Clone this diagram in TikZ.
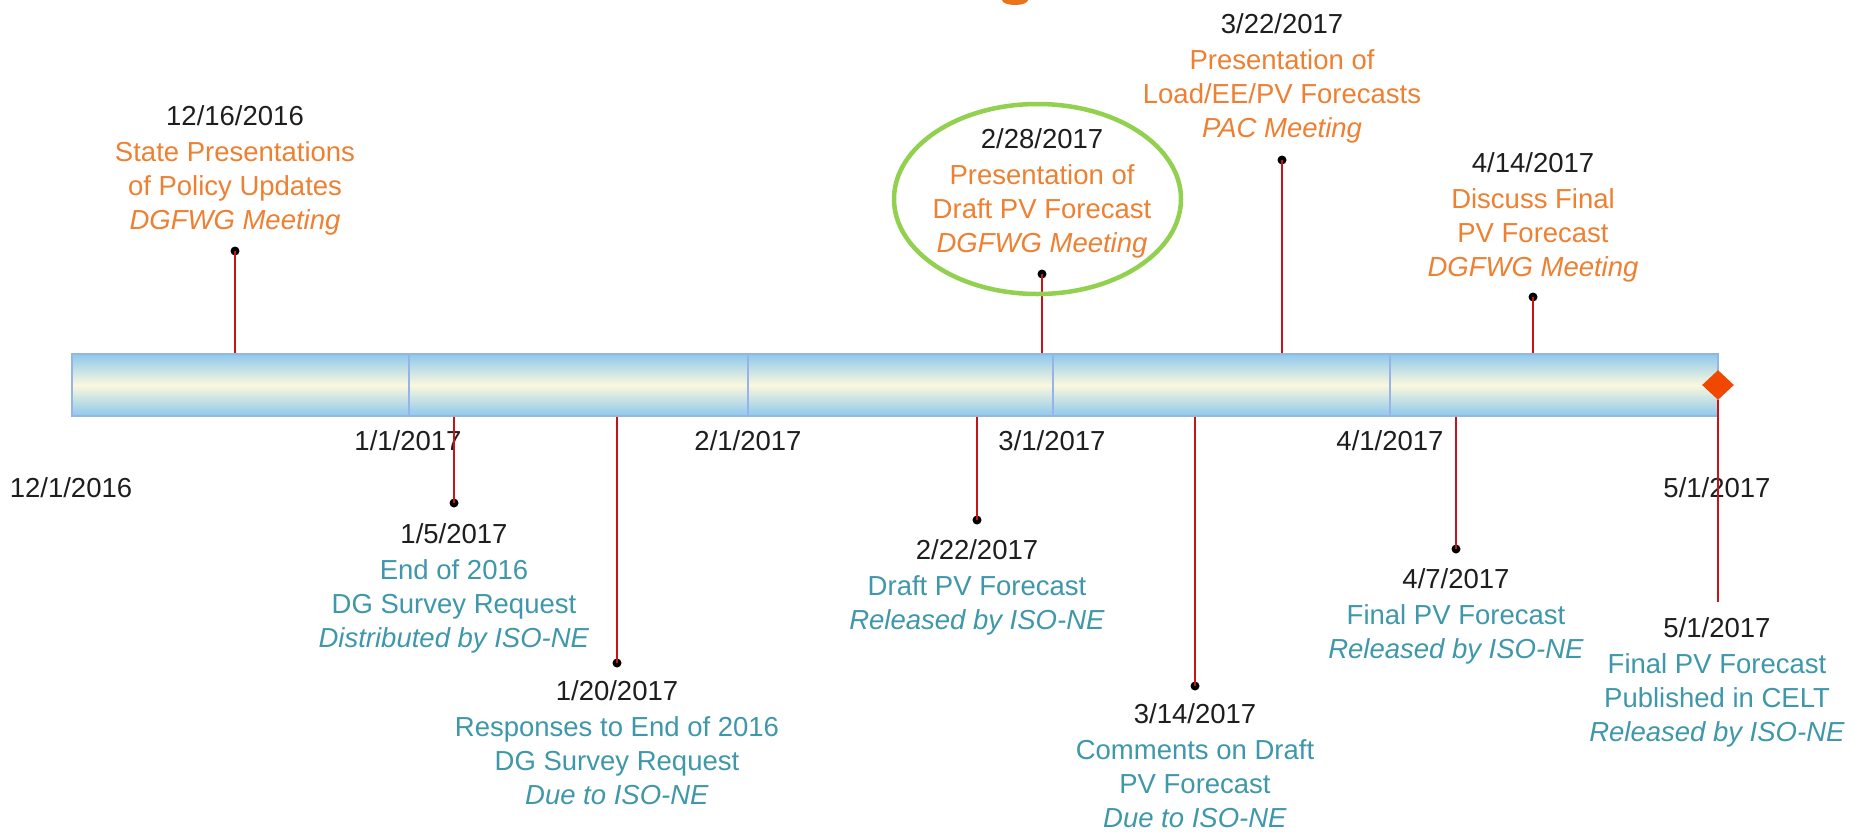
\documentclass[tikz,border=0pt]{standalone}
\usepackage{fontspec}
\setmainfont{Liberation Sans}
\usetikzlibrary{shapes.geometric}
\definecolor{orng}{RGB}{238,128,50}
\definecolor{titleor}{RGB}{235,115,25}
\definecolor{tealc}{RGB}{62,152,170}
\definecolor{stemred}{RGB}{200,20,20}
\definecolor{barblue}{RGB}{142,200,236}
\definecolor{barcream}{RGB}{250,248,222}
\definecolor{barline}{RGB}{150,180,230}
\definecolor{diam}{RGB}{240,72,0}
\definecolor{grn}{RGB}{146,208,80}
\definecolor{datec}{RGB}{30,30,30}
\newcommand{\evfont}{\fontsize{13.75}{16.8}\selectfont}
\begin{document}
\begin{tikzpicture}[x=0.5pt,y=-0.5pt,
  evt/.style={align=center, inner sep=0pt, font=\evfont, anchor=north},
  evtop/.style={evt, text=orng},
  evbot/.style={evt, text=tealc},
  axl/.style={inner sep=0pt, font=\evfont, text=datec},
  dotn/.style={circle, fill=black, inner sep=0pt, minimum size=4.5pt},
  stem/.style={draw=stemred, line width=1pt},
  divider/.style={draw=barline, line width=0.75pt}]
\fill[white] (0,0) rectangle (1853,831);
\useasboundingbox (0,0) rectangle (1853,831);
% title fragment
\fill[titleor] (1002,0) arc[start angle=180, end angle=0, x radius=13, y radius=5] -- cycle;

% bar
\node[draw=barline, line width=1.25pt, top color=barblue, bottom color=barblue, middle color=barcream,
      minimum width=823pt, minimum height=31pt, inner sep=0pt] (bar) at (895,385) {};
\draw[divider] (409,0 |- bar.north) -- (409,0 |- bar.south);
\draw[divider] (748,0 |- bar.north) -- (748,0 |- bar.south);
\draw[divider] (1053,0 |- bar.north) -- (1053,0 |- bar.south);
\draw[divider] (1390,0 |- bar.north) -- (1390,0 |- bar.south);

% axis labels
\node[axl] (a1) at (71,488) {12/1/2016};
\node[axl] (a2) at (408,441) {1/1/2017};
\node[axl] (a3) at (748,441) {2/1/2017};
\node[axl] (a4) at (1052,441) {3/1/2017};
\node[axl] (a5) at (1390,441) {4/1/2017};
\node[axl] (a6) at (1717,488) {5/1/2017};

% events above
\node[evtop] (e1) at (235,105) {\textcolor{datec}{12/16/2016}\\[1.5pt] State Presentations\\ of Policy Updates\\ \textit{DGFWG Meeting}};
\node[evtop] (e2) at (1042,128) {\textcolor{datec}{2/28/2017}\\[1.5pt] Presentation of\\ Draft PV Forecast\\ \textit{DGFWG Meeting}};
\node[evtop] (e3) at (1282,13) {\textcolor{datec}{3/22/2017}\\[1.5pt] Presentation of\\ Load/EE/PV Forecasts\\ \textit{PAC Meeting}};
\node[evtop] (e4) at (1533,152) {\textcolor{datec}{4/14/2017}\\[1.5pt] Discuss Final\\ PV Forecast\\ \textit{DGFWG Meeting}};

% events below
\node[evbot] (b1) at (454,523) {\textcolor{datec}{1/5/2017}\\[1.5pt] End of 2016\\ DG Survey Request\\ \textit{Distributed by ISO-NE}};
\node[evbot] (b2) at (617,680) {\textcolor{datec}{1/20/2017}\\[1.5pt] Responses to End of 2016\\ DG Survey Request\\ \textit{Due to ISO-NE}};
\node[evbot] (b3) at (977,539) {\textcolor{datec}{2/22/2017}\\[1.5pt] Draft PV Forecast\\ \textit{Released by ISO-NE}};
\node[evbot] (b4) at (1195,703) {\textcolor{datec}{3/14/2017}\\[1.5pt] Comments on Draft\\ PV Forecast\\ \textit{Due to ISO-NE}};
\node[evbot] (b5) at (1456,568) {\textcolor{datec}{4/7/2017}\\[1.5pt] Final PV Forecast\\ \textit{Released by ISO-NE}};
\node[evbot] (b6) at (1717,617) {\textcolor{datec}{5/1/2017}\\[1.5pt] Final PV Forecast\\ Published in CELT\\ \textit{Released by ISO-NE}};

% dots
\node[dotn] (d1) at (235,251) {};
\node[dotn] (d2) at (1042,274) {};
\node[dotn] (d3) at (1282,160) {};
\node[dotn] (d4) at (1533,297) {};
\node[dotn] (u1) at (454,503) {};
\node[dotn] (u2) at (617,663) {};
\node[dotn] (u3) at (977,520) {};
\node[dotn] (u4) at (1195,686) {};
\node[dotn] (u5) at (1456,549) {};
\coordinate (u6) at (1718,602);

% stems
\draw[stem] (d1.center) -- (d1.center |- bar.north);
\draw[stem] (d2.center) -- (d2.center |- bar.north);
\draw[stem] (d3.center) -- (d3.center |- bar.north);
\draw[stem] (d4.center) -- (d4.center |- bar.north);
\draw[stem] (u1.center) -- (u1.center |- bar.south);
\draw[stem] (u2.center) -- (u2.center |- bar.south);
\draw[stem] (u3.center) -- (u3.center |- bar.south);
\draw[stem] (u4.center) -- (u4.center |- bar.south);
\draw[stem] (u5.center) -- (u5.center |- bar.south);

% end diamond
\node[diamond, fill=diam, inner sep=0pt, minimum width=16pt, minimum height=15pt] (dia) at (1718,385) {};
\draw[stem] (dia.south) -- (u6);

% highlight ellipse
\node[ellipse, draw=grn, line width=2.25pt, inner sep=0pt, minimum width=143.5pt, minimum height=95pt] (hl) at (1037.5,199) {};
\end{tikzpicture}
\end{document}
